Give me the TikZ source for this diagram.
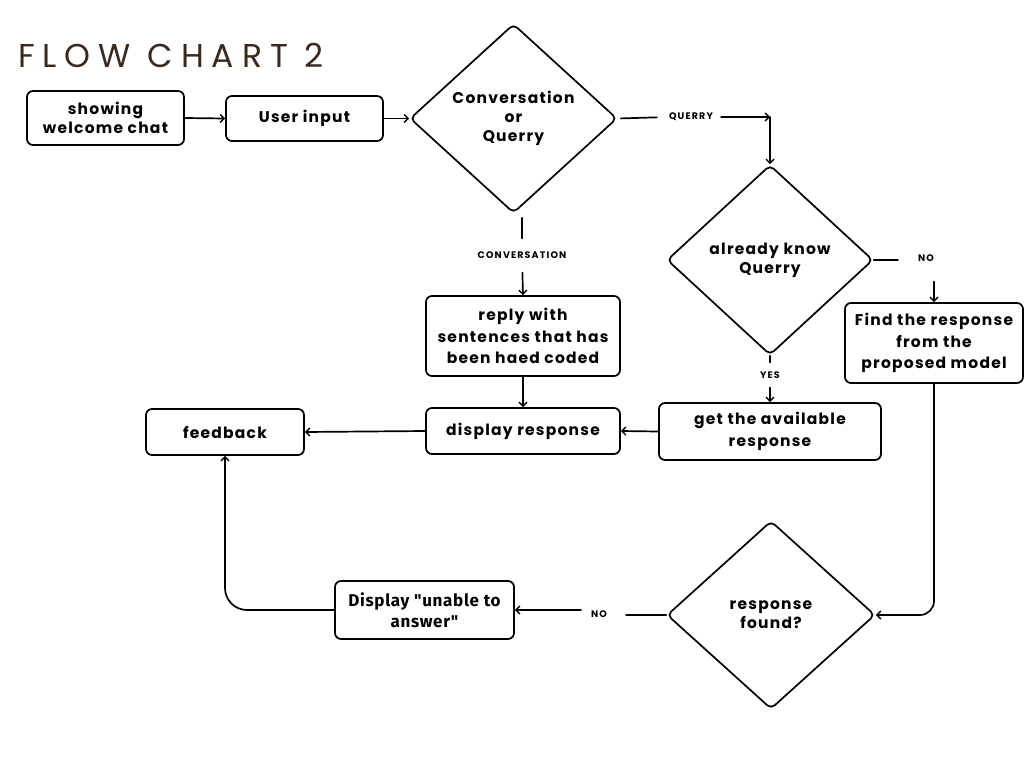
\documentclass[tikz,border=0pt]{standalone}
\usepackage{fontspec}
\setmainfont{Poppins}[LetterSpace=8]
\newfontfamily\titlefont[LetterSpace=24]{Poppins}
\newfontfamily\tagfont[LetterSpace=12]{Poppins}
\newfontfamily\dispfont[LetterSpace=4]{Fira Sans}
\usetikzlibrary{shapes.geometric,arrows.meta}
\definecolor{titlebrown}{HTML}{3B2A1C}
\begin{document}
\begin{tikzpicture}[x=1pt,y=-1pt,
  every node/.style={inner sep=0pt},
  flowline/.style={line width=1.7pt, line cap=round},
  arr/.style={flowline, -{Straight Barb[length=4pt,width=8pt,line width=1.4pt]}},
  procbox/.style={draw, line width=1.7pt, rounded corners=6pt, align=center,
    font=\bfseries\fontsize{15.5}{21.5}\selectfont},
  decision/.style={diamond, draw, line width=1.7pt, rounded corners=5pt, align=center,
    font=\bfseries\fontsize{15.5}{19}\selectfont},
  tag/.style={font=\tagfont\bfseries\fontsize{9.5}{11}\selectfont}
]
\useasboundingbox (0,0) rectangle (1024,768);

% title
\node[anchor=base west, text=titlebrown, font=\titlefont\fontsize{33}{36}\selectfont] (title) at (18,67) {FLOW CHART 2};

% process boxes
\node[procbox, minimum width=157pt, minimum height=54pt, font=\bfseries\fontsize{15.5}{18.5}\selectfont] (welcome) at (105.5,118) {showing\\welcome chat};
\node[procbox, minimum width=157pt, minimum height=45pt] (user) at (304.5,118.5) {User input};
\node[procbox, minimum width=194pt, minimum height=80pt] (reply) at (523,336) {reply with\\sentences that has\\been haed coded};
\node[procbox, minimum width=194pt, minimum height=46pt] (disp) at (523,431) {display response};
\node[procbox, minimum width=158pt, minimum height=46pt] (feed) at (225,432) {feedback};
\node[procbox, minimum width=178pt, minimum height=80pt] (find) at (934,343) {Find the response\\from the\\proposed model};
\node[procbox, minimum width=222pt, minimum height=57pt] (avail) at (770,431.5) {get the available\\response};
\node[procbox, minimum width=179pt, minimum height=58pt, font=\dispfont\bfseries\fontsize{17}{21.5}\selectfont] (unable) at (424.5,610) {Display "unable to\\answer"};

% decisions
\node[decision, minimum width=207pt, minimum height=189pt] (conv) at (513.5,118.5) {Conversation\\or\\Querry};
\node[decision, minimum width=206pt, minimum height=190pt] (know) at (770,260) {already know\\Querry};
\node[decision, minimum width=208pt, minimum height=188pt] (found) at (771,615) {response\\found?};

% connector labels
\node[tag] (querry) at (691,117) {QUERRY};
\node[tag] (convtag) at (522,255) {CONVERSATION};
\node[tag] (no1) at (926,258) {NO};
\node[tag] (yes) at (770,375) {YES};
\node[tag] (no2) at (599,614) {NO};

\coordinate (qcorner) at (know.north |- querry.east);

% connectors
\draw[arr] (welcome.east) -- (user.west);
\draw[arr] (user.east) -- (conv.west);

\draw[flowline, shorten <=3pt, shorten >=12pt] (conv.east) -- (querry.west);
\draw[arr, shorten <=8pt] (querry.east) -- (qcorner);
\draw[arr] (qcorner) -- (know.north);

\draw[flowline, shorten <=4pt, shorten >=13pt] (conv.south -| convtag.north) -- (convtag.north);
\draw[arr, shorten <=14pt] (convtag.south) -- (reply.north);
\draw[arr] (reply.south) -- (disp.north);
\draw[arr] (disp.west) -- (feed.east);

\draw[flowline, shorten >=20pt] (know.east) -- (know.east -| no1.west);
\draw[arr, shorten <=20pt] (no1.south -| find.north) -- (find.north);
\draw[flowline, shorten >=9pt] (know.south) -- (yes.north);
\draw[arr, shorten <=9pt] (yes.south) -- (avail.north);
\draw[arr] (avail.west) -- (disp.east);

\draw[arr, rounded corners=14pt] (find.south) |- (found.east);
\draw[flowline, shorten >=19pt] (found.west) -- (found.west -| no2.east);
\draw[arr, shorten <=10pt] (no2.west |- unable.east) -- (unable.east);
\draw[arr, rounded corners=22pt] (unable.west) -| (feed.south);
\end{tikzpicture}
\end{document}
